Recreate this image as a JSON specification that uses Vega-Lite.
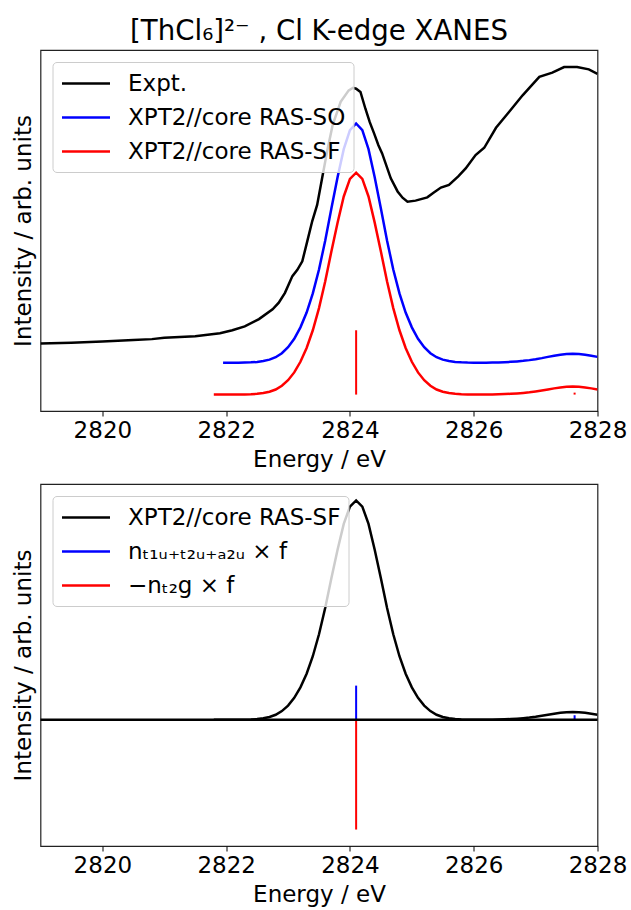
{
  "$schema": "https://vega.github.io/schema/vega-lite/v6.json",
  "padding": {"left": 11.5, "top": 17, "right": 2, "bottom": 2},
  "background": "white",
  "config": {
    "font": "DejaVu Sans",
    "view": {"stroke": "#222222", "strokeWidth": 1.2},
    "axis": {"grid": false, "domain": false, "labelFont": "DejaVu Sans", "titleFont": "DejaVu Sans", "labelFontSize": 23, "titleFontSize": 23, "titleFontWeight": "normal", "labelColor": "black", "titleColor": "black", "tickColor": "black"},
    "legend": {"labelFont": "DejaVu Sans", "labelFontSize": 23, "labelColor": "black", "labelLimit": 500, "symbolType": "M-1,0H3", "symbolSize": 576, "symbolStrokeWidth": 2.5, "labelOffset": 40.5, "rowPadding": 8, "padding": 8, "fillColor": "rgba(255,255,255,0.8)", "strokeColor": "#cccccc", "cornerRadius": 4, "orient": "top-left", "offset": 12, "title": null},
    "title": {"font": "DejaVu Sans", "fontSize": 27.6, "fontWeight": "normal", "color": "black"}
  },
  "datasets": {
    "top_curves": [
      {"E": 2819.0, "y": 0.156, "s": "Expt."},
      {"E": 2819.5, "y": 0.158, "s": "Expt."},
      {"E": 2820.0, "y": 0.162, "s": "Expt."},
      {"E": 2820.5, "y": 0.166, "s": "Expt."},
      {"E": 2820.8, "y": 0.169, "s": "Expt."},
      {"E": 2821.0, "y": 0.173, "s": "Expt."},
      {"E": 2821.5, "y": 0.178, "s": "Expt."},
      {"E": 2821.9, "y": 0.187, "s": "Expt."},
      {"E": 2822.1, "y": 0.196, "s": "Expt."},
      {"E": 2822.3, "y": 0.208, "s": "Expt."},
      {"E": 2822.53, "y": 0.230, "s": "Expt."},
      {"E": 2822.75, "y": 0.260, "s": "Expt."},
      {"E": 2822.85, "y": 0.280, "s": "Expt."},
      {"E": 2822.95, "y": 0.310, "s": "Expt."},
      {"E": 2823.07, "y": 0.361, "s": "Expt."},
      {"E": 2823.15, "y": 0.380, "s": "Expt."},
      {"E": 2823.23, "y": 0.406, "s": "Expt."},
      {"E": 2823.31, "y": 0.467, "s": "Expt."},
      {"E": 2823.39, "y": 0.528, "s": "Expt."},
      {"E": 2823.47, "y": 0.578, "s": "Expt."},
      {"E": 2823.55, "y": 0.659, "s": "Expt."},
      {"E": 2823.63, "y": 0.740, "s": "Expt."},
      {"E": 2823.72, "y": 0.821, "s": "Expt."},
      {"E": 2823.85, "y": 0.892, "s": "Expt."},
      {"E": 2823.98, "y": 0.927, "s": "Expt."},
      {"E": 2824.05, "y": 0.935, "s": "Expt."},
      {"E": 2824.10, "y": 0.932, "s": "Expt."},
      {"E": 2824.17, "y": 0.922, "s": "Expt."},
      {"E": 2824.25, "y": 0.871, "s": "Expt."},
      {"E": 2824.32, "y": 0.830, "s": "Expt."},
      {"E": 2824.39, "y": 0.796, "s": "Expt."},
      {"E": 2824.46, "y": 0.760, "s": "Expt."},
      {"E": 2824.52, "y": 0.735, "s": "Expt."},
      {"E": 2824.66, "y": 0.659, "s": "Expt."},
      {"E": 2824.77, "y": 0.619, "s": "Expt."},
      {"E": 2824.85, "y": 0.600, "s": "Expt."},
      {"E": 2824.93, "y": 0.588, "s": "Expt."},
      {"E": 2825.06, "y": 0.591, "s": "Expt."},
      {"E": 2825.25, "y": 0.601, "s": "Expt."},
      {"E": 2825.35, "y": 0.615, "s": "Expt."},
      {"E": 2825.47, "y": 0.631, "s": "Expt."},
      {"E": 2825.60, "y": 0.639, "s": "Expt."},
      {"E": 2825.75, "y": 0.665, "s": "Expt."},
      {"E": 2825.87, "y": 0.689, "s": "Expt."},
      {"E": 2826.03, "y": 0.730, "s": "Expt."},
      {"E": 2826.17, "y": 0.752, "s": "Expt."},
      {"E": 2826.36, "y": 0.813, "s": "Expt."},
      {"E": 2826.57, "y": 0.861, "s": "Expt."},
      {"E": 2826.79, "y": 0.912, "s": "Expt."},
      {"E": 2826.95, "y": 0.945, "s": "Expt."},
      {"E": 2827.06, "y": 0.968, "s": "Expt."},
      {"E": 2827.27, "y": 0.981, "s": "Expt."},
      {"E": 2827.46, "y": 0.998, "s": "Expt."},
      {"E": 2827.67, "y": 0.998, "s": "Expt."},
      {"E": 2827.86, "y": 0.991, "s": "Expt."},
      {"E": 2828.0, "y": 0.977, "s": "Expt."},

      {"E": 2821.95, "y": 0.097, "s": "XPT2//core RAS-SO"},
      {"E": 2822.0, "y": 0.097, "s": "XPT2//core RAS-SO"},
      {"E": 2822.1, "y": 0.0971, "s": "XPT2//core RAS-SO"},
      {"E": 2822.2, "y": 0.0972, "s": "XPT2//core RAS-SO"},
      {"E": 2822.3, "y": 0.0975, "s": "XPT2//core RAS-SO"},
      {"E": 2822.4, "y": 0.0982, "s": "XPT2//core RAS-SO"},
      {"E": 2822.5, "y": 0.0996, "s": "XPT2//core RAS-SO"},
      {"E": 2822.6, "y": 0.1021, "s": "XPT2//core RAS-SO"},
      {"E": 2822.7, "y": 0.1065, "s": "XPT2//core RAS-SO"},
      {"E": 2822.8, "y": 0.1138, "s": "XPT2//core RAS-SO"},
      {"E": 2822.9, "y": 0.1262, "s": "XPT2//core RAS-SO"},
      {"E": 2823.0, "y": 0.1444, "s": "XPT2//core RAS-SO"},
      {"E": 2823.1, "y": 0.1699, "s": "XPT2//core RAS-SO"},
      {"E": 2823.2, "y": 0.2049, "s": "XPT2//core RAS-SO"},
      {"E": 2823.3, "y": 0.2501, "s": "XPT2//core RAS-SO"},
      {"E": 2823.4, "y": 0.3084, "s": "XPT2//core RAS-SO"},
      {"E": 2823.5, "y": 0.3813, "s": "XPT2//core RAS-SO"},
      {"E": 2823.6, "y": 0.4688, "s": "XPT2//core RAS-SO"},
      {"E": 2823.7, "y": 0.5672, "s": "XPT2//core RAS-SO"},
      {"E": 2823.8, "y": 0.6620, "s": "XPT2//core RAS-SO"},
      {"E": 2823.9, "y": 0.7480, "s": "XPT2//core RAS-SO"},
      {"E": 2824.0, "y": 0.8056, "s": "XPT2//core RAS-SO"},
      {"E": 2824.1, "y": 0.826, "s": "XPT2//core RAS-SO"},
      {"E": 2824.2, "y": 0.8056, "s": "XPT2//core RAS-SO"},
      {"E": 2824.3, "y": 0.7480, "s": "XPT2//core RAS-SO"},
      {"E": 2824.4, "y": 0.6620, "s": "XPT2//core RAS-SO"},
      {"E": 2824.5, "y": 0.5672, "s": "XPT2//core RAS-SO"},
      {"E": 2824.6, "y": 0.4688, "s": "XPT2//core RAS-SO"},
      {"E": 2824.7, "y": 0.3813, "s": "XPT2//core RAS-SO"},
      {"E": 2824.8, "y": 0.3084, "s": "XPT2//core RAS-SO"},
      {"E": 2824.9, "y": 0.2501, "s": "XPT2//core RAS-SO"},
      {"E": 2825.0, "y": 0.2049, "s": "XPT2//core RAS-SO"},
      {"E": 2825.1, "y": 0.1699, "s": "XPT2//core RAS-SO"},
      {"E": 2825.2, "y": 0.1444, "s": "XPT2//core RAS-SO"},
      {"E": 2825.3, "y": 0.1262, "s": "XPT2//core RAS-SO"},
      {"E": 2825.4, "y": 0.1138, "s": "XPT2//core RAS-SO"},
      {"E": 2825.5, "y": 0.1065, "s": "XPT2//core RAS-SO"},
      {"E": 2825.6, "y": 0.1021, "s": "XPT2//core RAS-SO"},
      {"E": 2825.7, "y": 0.0996, "s": "XPT2//core RAS-SO"},
      {"E": 2825.8, "y": 0.0982, "s": "XPT2//core RAS-SO"},
      {"E": 2825.9, "y": 0.0975, "s": "XPT2//core RAS-SO"},
      {"E": 2826.0, "y": 0.0973, "s": "XPT2//core RAS-SO"},
      {"E": 2826.1, "y": 0.0973, "s": "XPT2//core RAS-SO"},
      {"E": 2826.2, "y": 0.0974, "s": "XPT2//core RAS-SO"},
      {"E": 2826.3, "y": 0.0976, "s": "XPT2//core RAS-SO"},
      {"E": 2826.4, "y": 0.0981, "s": "XPT2//core RAS-SO"},
      {"E": 2826.5, "y": 0.0988, "s": "XPT2//core RAS-SO"},
      {"E": 2826.6, "y": 0.0998, "s": "XPT2//core RAS-SO"},
      {"E": 2826.7, "y": 0.1011, "s": "XPT2//core RAS-SO"},
      {"E": 2826.8, "y": 0.1028, "s": "XPT2//core RAS-SO"},
      {"E": 2826.9, "y": 0.1050, "s": "XPT2//core RAS-SO"},
      {"E": 2827.0, "y": 0.1078, "s": "XPT2//core RAS-SO"},
      {"E": 2827.1, "y": 0.1111, "s": "XPT2//core RAS-SO"},
      {"E": 2827.2, "y": 0.1149, "s": "XPT2//core RAS-SO"},
      {"E": 2827.3, "y": 0.1185, "s": "XPT2//core RAS-SO"},
      {"E": 2827.4, "y": 0.1217, "s": "XPT2//core RAS-SO"},
      {"E": 2827.5, "y": 0.1239, "s": "XPT2//core RAS-SO"},
      {"E": 2827.6, "y": 0.1247, "s": "XPT2//core RAS-SO"},
      {"E": 2827.7, "y": 0.1239, "s": "XPT2//core RAS-SO"},
      {"E": 2827.8, "y": 0.1217, "s": "XPT2//core RAS-SO"},
      {"E": 2827.9, "y": 0.1185, "s": "XPT2//core RAS-SO"},
      {"E": 2828.0, "y": 0.1149, "s": "XPT2//core RAS-SO"},

      {"E": 2821.8, "y": 0.0, "s": "XPT2//core RAS-SF"},
      {"E": 2821.9, "y": 0.0, "s": "XPT2//core RAS-SF"},
      {"E": 2822.0, "y": 0.0, "s": "XPT2//core RAS-SF"},
      {"E": 2822.1, "y": 0.0001, "s": "XPT2//core RAS-SF"},
      {"E": 2822.2, "y": 0.0002, "s": "XPT2//core RAS-SF"},
      {"E": 2822.3, "y": 0.0005, "s": "XPT2//core RAS-SF"},
      {"E": 2822.4, "y": 0.0011, "s": "XPT2//core RAS-SF"},
      {"E": 2822.5, "y": 0.0024, "s": "XPT2//core RAS-SF"},
      {"E": 2822.6, "y": 0.0047, "s": "XPT2//core RAS-SF"},
      {"E": 2822.7, "y": 0.0088, "s": "XPT2//core RAS-SF"},
      {"E": 2822.8, "y": 0.0155, "s": "XPT2//core RAS-SF"},
      {"E": 2822.9, "y": 0.0270, "s": "XPT2//core RAS-SF"},
      {"E": 2823.0, "y": 0.0439, "s": "XPT2//core RAS-SF"},
      {"E": 2823.1, "y": 0.0676, "s": "XPT2//core RAS-SF"},
      {"E": 2823.2, "y": 0.1000, "s": "XPT2//core RAS-SF"},
      {"E": 2823.3, "y": 0.1420, "s": "XPT2//core RAS-SF"},
      {"E": 2823.4, "y": 0.1960, "s": "XPT2//core RAS-SF"},
      {"E": 2823.5, "y": 0.2636, "s": "XPT2//core RAS-SF"},
      {"E": 2823.6, "y": 0.3448, "s": "XPT2//core RAS-SF"},
      {"E": 2823.7, "y": 0.4360, "s": "XPT2//core RAS-SF"},
      {"E": 2823.8, "y": 0.5239, "s": "XPT2//core RAS-SF"},
      {"E": 2823.9, "y": 0.6037, "s": "XPT2//core RAS-SF"},
      {"E": 2824.0, "y": 0.6571, "s": "XPT2//core RAS-SF"},
      {"E": 2824.1, "y": 0.676, "s": "XPT2//core RAS-SF"},
      {"E": 2824.2, "y": 0.6571, "s": "XPT2//core RAS-SF"},
      {"E": 2824.3, "y": 0.6037, "s": "XPT2//core RAS-SF"},
      {"E": 2824.4, "y": 0.5239, "s": "XPT2//core RAS-SF"},
      {"E": 2824.5, "y": 0.4360, "s": "XPT2//core RAS-SF"},
      {"E": 2824.6, "y": 0.3448, "s": "XPT2//core RAS-SF"},
      {"E": 2824.7, "y": 0.2636, "s": "XPT2//core RAS-SF"},
      {"E": 2824.8, "y": 0.1960, "s": "XPT2//core RAS-SF"},
      {"E": 2824.9, "y": 0.1420, "s": "XPT2//core RAS-SF"},
      {"E": 2825.0, "y": 0.1000, "s": "XPT2//core RAS-SF"},
      {"E": 2825.1, "y": 0.0676, "s": "XPT2//core RAS-SF"},
      {"E": 2825.2, "y": 0.0439, "s": "XPT2//core RAS-SF"},
      {"E": 2825.3, "y": 0.0270, "s": "XPT2//core RAS-SF"},
      {"E": 2825.4, "y": 0.0155, "s": "XPT2//core RAS-SF"},
      {"E": 2825.5, "y": 0.0088, "s": "XPT2//core RAS-SF"},
      {"E": 2825.6, "y": 0.0047, "s": "XPT2//core RAS-SF"},
      {"E": 2825.7, "y": 0.0024, "s": "XPT2//core RAS-SF"},
      {"E": 2825.8, "y": 0.0011, "s": "XPT2//core RAS-SF"},
      {"E": 2825.9, "y": 0.0005, "s": "XPT2//core RAS-SF"},
      {"E": 2826.0, "y": 0.0003, "s": "XPT2//core RAS-SF"},
      {"E": 2826.1, "y": 0.0003, "s": "XPT2//core RAS-SF"},
      {"E": 2826.2, "y": 0.0003, "s": "XPT2//core RAS-SF"},
      {"E": 2826.3, "y": 0.0005, "s": "XPT2//core RAS-SF"},
      {"E": 2826.4, "y": 0.0009, "s": "XPT2//core RAS-SF"},
      {"E": 2826.5, "y": 0.0016, "s": "XPT2//core RAS-SF"},
      {"E": 2826.6, "y": 0.0024, "s": "XPT2//core RAS-SF"},
      {"E": 2826.7, "y": 0.0036, "s": "XPT2//core RAS-SF"},
      {"E": 2826.8, "y": 0.0051, "s": "XPT2//core RAS-SF"},
      {"E": 2826.9, "y": 0.0070, "s": "XPT2//core RAS-SF"},
      {"E": 2827.0, "y": 0.0095, "s": "XPT2//core RAS-SF"},
      {"E": 2827.1, "y": 0.0124, "s": "XPT2//core RAS-SF"},
      {"E": 2827.2, "y": 0.0157, "s": "XPT2//core RAS-SF"},
      {"E": 2827.3, "y": 0.0189, "s": "XPT2//core RAS-SF"},
      {"E": 2827.4, "y": 0.0217, "s": "XPT2//core RAS-SF"},
      {"E": 2827.5, "y": 0.0237, "s": "XPT2//core RAS-SF"},
      {"E": 2827.6, "y": 0.0243, "s": "XPT2//core RAS-SF"},
      {"E": 2827.7, "y": 0.0237, "s": "XPT2//core RAS-SF"},
      {"E": 2827.8, "y": 0.0217, "s": "XPT2//core RAS-SF"},
      {"E": 2827.9, "y": 0.0189, "s": "XPT2//core RAS-SF"},
      {"E": 2828.0, "y": 0.0157, "s": "XPT2//core RAS-SF"}
    ],
    "top_sticks": [
      {"E": 2824.1, "y0": 0, "y1": 0.196, "s": "XPT2//core RAS-SF"},
      {"E": 2827.63, "y0": 0, "y1": 0.006, "s": "XPT2//core RAS-SF"}
    ],
    "bottom_curve": [
      {"E": 2821.8, "y": 0.0, "s": "XPT2//core RAS-SF"},
      {"E": 2821.9, "y": 0.0, "s": "XPT2//core RAS-SF"},
      {"E": 2822.0, "y": 0.0, "s": "XPT2//core RAS-SF"},
      {"E": 2822.1, "y": 0.0001, "s": "XPT2//core RAS-SF"},
      {"E": 2822.2, "y": 0.0003, "s": "XPT2//core RAS-SF"},
      {"E": 2822.3, "y": 0.0007, "s": "XPT2//core RAS-SF"},
      {"E": 2822.4, "y": 0.0016, "s": "XPT2//core RAS-SF"},
      {"E": 2822.5, "y": 0.0035, "s": "XPT2//core RAS-SF"},
      {"E": 2822.6, "y": 0.007, "s": "XPT2//core RAS-SF"},
      {"E": 2822.7, "y": 0.013, "s": "XPT2//core RAS-SF"},
      {"E": 2822.8, "y": 0.023, "s": "XPT2//core RAS-SF"},
      {"E": 2822.9, "y": 0.040, "s": "XPT2//core RAS-SF"},
      {"E": 2823.0, "y": 0.065, "s": "XPT2//core RAS-SF"},
      {"E": 2823.1, "y": 0.100, "s": "XPT2//core RAS-SF"},
      {"E": 2823.2, "y": 0.148, "s": "XPT2//core RAS-SF"},
      {"E": 2823.3, "y": 0.210, "s": "XPT2//core RAS-SF"},
      {"E": 2823.4, "y": 0.290, "s": "XPT2//core RAS-SF"},
      {"E": 2823.5, "y": 0.390, "s": "XPT2//core RAS-SF"},
      {"E": 2823.6, "y": 0.510, "s": "XPT2//core RAS-SF"},
      {"E": 2823.7, "y": 0.645, "s": "XPT2//core RAS-SF"},
      {"E": 2823.8, "y": 0.775, "s": "XPT2//core RAS-SF"},
      {"E": 2823.9, "y": 0.893, "s": "XPT2//core RAS-SF"},
      {"E": 2824.0, "y": 0.972, "s": "XPT2//core RAS-SF"},
      {"E": 2824.1, "y": 1.0, "s": "XPT2//core RAS-SF"},
      {"E": 2824.2, "y": 0.972, "s": "XPT2//core RAS-SF"},
      {"E": 2824.3, "y": 0.893, "s": "XPT2//core RAS-SF"},
      {"E": 2824.4, "y": 0.775, "s": "XPT2//core RAS-SF"},
      {"E": 2824.5, "y": 0.645, "s": "XPT2//core RAS-SF"},
      {"E": 2824.6, "y": 0.510, "s": "XPT2//core RAS-SF"},
      {"E": 2824.7, "y": 0.390, "s": "XPT2//core RAS-SF"},
      {"E": 2824.8, "y": 0.290, "s": "XPT2//core RAS-SF"},
      {"E": 2824.9, "y": 0.210, "s": "XPT2//core RAS-SF"},
      {"E": 2825.0, "y": 0.148, "s": "XPT2//core RAS-SF"},
      {"E": 2825.1, "y": 0.100, "s": "XPT2//core RAS-SF"},
      {"E": 2825.2, "y": 0.065, "s": "XPT2//core RAS-SF"},
      {"E": 2825.3, "y": 0.040, "s": "XPT2//core RAS-SF"},
      {"E": 2825.4, "y": 0.023, "s": "XPT2//core RAS-SF"},
      {"E": 2825.5, "y": 0.013, "s": "XPT2//core RAS-SF"},
      {"E": 2825.6, "y": 0.007, "s": "XPT2//core RAS-SF"},
      {"E": 2825.7, "y": 0.0035, "s": "XPT2//core RAS-SF"},
      {"E": 2825.8, "y": 0.0016, "s": "XPT2//core RAS-SF"},
      {"E": 2825.9, "y": 0.0008, "s": "XPT2//core RAS-SF"},
      {"E": 2826.0, "y": 0.0004, "s": "XPT2//core RAS-SF"},
      {"E": 2826.1, "y": 0.0004, "s": "XPT2//core RAS-SF"},
      {"E": 2826.2, "y": 0.0005, "s": "XPT2//core RAS-SF"},
      {"E": 2826.3, "y": 0.0008, "s": "XPT2//core RAS-SF"},
      {"E": 2826.4, "y": 0.0014, "s": "XPT2//core RAS-SF"},
      {"E": 2826.5, "y": 0.0023, "s": "XPT2//core RAS-SF"},
      {"E": 2826.6, "y": 0.0036, "s": "XPT2//core RAS-SF"},
      {"E": 2826.7, "y": 0.0053, "s": "XPT2//core RAS-SF"},
      {"E": 2826.8, "y": 0.0076, "s": "XPT2//core RAS-SF"},
      {"E": 2826.9, "y": 0.0104, "s": "XPT2//core RAS-SF"},
      {"E": 2827.0, "y": 0.0140, "s": "XPT2//core RAS-SF"},
      {"E": 2827.1, "y": 0.0184, "s": "XPT2//core RAS-SF"},
      {"E": 2827.2, "y": 0.0232, "s": "XPT2//core RAS-SF"},
      {"E": 2827.3, "y": 0.0279, "s": "XPT2//core RAS-SF"},
      {"E": 2827.4, "y": 0.0321, "s": "XPT2//core RAS-SF"},
      {"E": 2827.5, "y": 0.0350, "s": "XPT2//core RAS-SF"},
      {"E": 2827.6, "y": 0.0360, "s": "XPT2//core RAS-SF"},
      {"E": 2827.7, "y": 0.0350, "s": "XPT2//core RAS-SF"},
      {"E": 2827.8, "y": 0.0321, "s": "XPT2//core RAS-SF"},
      {"E": 2827.9, "y": 0.0279, "s": "XPT2//core RAS-SF"},
      {"E": 2828.0, "y": 0.0232, "s": "XPT2//core RAS-SF"}
    ],
    "bottom_sticks": [
      {"E": 2824.1, "y0": 0, "y1": 0.156, "s": "nₜ₁ᵤ₊ₜ₂ᵤ₊ₐ₂ᵤ × f"},
      {"E": 2827.63, "y0": 0, "y1": 0.021, "s": "nₜ₁ᵤ₊ₜ₂ᵤ₊ₐ₂ᵤ × f"},
      {"E": 2824.1, "y0": 0, "y1": -0.5, "s": "−nₜ₂g × f"},
      {"E": 2827.63, "y0": 0, "y1": -0.003, "s": "−nₜ₂g × f"}
    ],
    "zero": [{"y": 0}]
  },
  "spacing": 11,
  "resolve": {"scale": {"color": "independent", "x": "independent", "y": "independent"}, "legend": {"color": "independent"}},
  "vconcat": [
    {
      "width": 557,
      "height": 361,
      "title": {"text": "[ThCl₆]²⁻ , Cl K-edge XANES", "anchor": "middle", "offset": 4},
      "layer": [
        {
          "data": {"name": "top_curves"},
          "mark": {"type": "line", "strokeWidth": 2.5, "clip": true},
          "encoding": {
            "x": {"field": "E", "type": "quantitative", "scale": {"domain": [2819, 2828], "nice": false, "zero": false},
                  "axis": {"title": "Energy / eV", "values": [2820, 2822, 2824, 2826, 2828], "format": "d", "tickSize": 5, "labelPadding": 3, "titlePadding": 6, "labelFlush": false, "labelOverlap": false}},
            "y": {"field": "y", "type": "quantitative", "scale": {"domain": [-0.05, 1.05], "nice": false, "zero": false},
                  "axis": {"title": "Intensity / arb. units", "labels": false, "ticks": false, "titlePadding": 5}},
            "color": {"field": "s", "type": "nominal",
                      "scale": {"domain": ["Expt.", "XPT2//core RAS-SO", "XPT2//core RAS-SF"], "range": ["#000000", "#0000ff", "#ff0000"]}}
          }
        },
        {
          "data": {"name": "top_sticks"},
          "mark": {"type": "rule", "strokeWidth": 2},
          "encoding": {
            "x": {"field": "E", "type": "quantitative"},
            "y": {"field": "y0", "type": "quantitative"},
            "y2": {"field": "y1"},
            "color": {"field": "s", "type": "nominal"}
          }
        }
      ]
    },
    {
      "width": 557,
      "height": 362,
      "layer": [
        {
          "data": {"name": "bottom_curve"},
          "mark": {"type": "line", "strokeWidth": 2.5, "clip": true},
          "encoding": {
            "x": {"field": "E", "type": "quantitative", "scale": {"domain": [2819, 2828], "nice": false, "zero": false},
                  "axis": {"title": "Energy / eV", "values": [2820, 2822, 2824, 2826, 2828], "format": "d", "tickSize": 5, "labelPadding": 3, "titlePadding": 6, "labelFlush": false, "labelOverlap": false}},
            "y": {"field": "y", "type": "quantitative", "scale": {"domain": [-0.575, 1.075], "nice": false, "zero": false},
                  "axis": {"title": "Intensity / arb. units", "labels": false, "ticks": false, "titlePadding": 5}},
            "color": {"field": "s", "type": "nominal",
                      "scale": {"domain": ["XPT2//core RAS-SF", "nₜ₁ᵤ₊ₜ₂ᵤ₊ₐ₂ᵤ × f", "−nₜ₂g × f"], "range": ["#000000", "#0000ff", "#ff0000"]}}
          }
        },
        {
          "data": {"name": "bottom_sticks"},
          "mark": {"type": "rule", "strokeWidth": 2},
          "encoding": {
            "x": {"field": "E", "type": "quantitative"},
            "y": {"field": "y0", "type": "quantitative"},
            "y2": {"field": "y1"},
            "color": {"field": "s", "type": "nominal"}
          }
        },
        {
          "data": {"name": "zero"},
          "mark": {"type": "rule", "color": "black", "strokeWidth": 2.5},
          "encoding": {"y": {"field": "y", "type": "quantitative"}}
        }
      ]
    }
  ]
}
